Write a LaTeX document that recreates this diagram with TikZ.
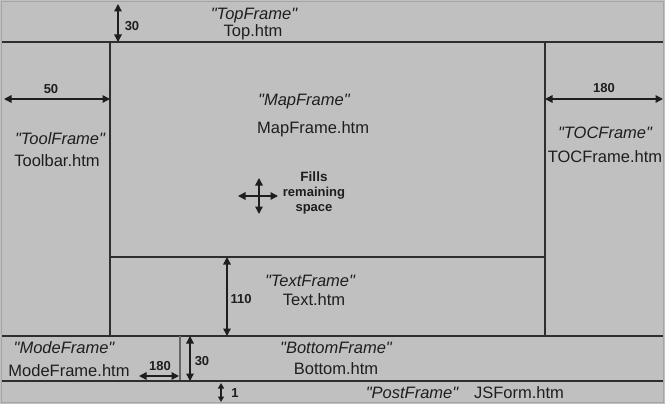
\documentclass[tikz,border=0pt]{standalone}
\usepackage{fontspec}
\setmainfont{Liberation Sans}
\usetikzlibrary{arrows.meta}
\definecolor{panelgray}{HTML}{C0C0C0}
\definecolor{edgegray}{HTML}{A4A4A4}
\definecolor{linedark}{HTML}{2E2E2E}
\definecolor{splitgray}{HTML}{666666}
\definecolor{inkc}{HTML}{1E1E1E}
\newcommand{\qq}[1]{\textquotedbl#1\textquotedbl}
\begin{document}
\begin{tikzpicture}[x=1pt,y=-1pt,
  frameline/.style={line width=2pt,draw=linedark},
  dimarrow/.style={line width=1.5pt,draw=inkc,
    {Triangle[length=7.5pt,width=7.5pt]}-{Triangle[length=7.5pt,width=7.5pt]}},
  smallarrow/.style={line width=1.3pt,draw=inkc,
    {Triangle[length=5.5pt,width=6pt]}-{Triangle[length=5.5pt,width=6pt]}},
  lbl/.style={font=\fontsize{16.5}{18}\selectfont,text=inkc,inner sep=0pt,anchor=base},
  fname/.style={lbl,font=\fontsize{16.5}{18}\selectfont\itshape},
  dimtext/.style={font=\fontsize{13}{15}\selectfont\bfseries,text=inkc,inner sep=0pt,anchor=base},
]
% page background and outer edge
\fill[panelgray] (0,0) rectangle (665,404);
\draw[edgegray,line width=1pt] (1.5,1.5) rectangle (663.5,402.5);

% frame corners and split points
\coordinate (h1L) at (2,42);    \coordinate (h1R) at (663,42);
\coordinate (v1T) at (110,42);  \coordinate (v1B) at (110,336);
\coordinate (v2T) at (545,42);  \coordinate (v2B) at (545,336);
\coordinate (h2L) at (110,257); \coordinate (h2R) at (545,257);
\coordinate (h3L) at (2,336);   \coordinate (h3R) at (663,336);
\coordinate (v3T) at (180,336); \coordinate (v3B) at (180,381);
\coordinate (h4L) at (2,381);   \coordinate (h4R) at (663,381);

% frame borders
\draw[frameline] (h1L) -- (h1R);
\draw[frameline] (v1T) -- (v1B);
\draw[frameline] (v2T) -- (v2B);
\draw[frameline] (h2L) -- (h2R);
\draw[frameline] (h3L) -- (h3R);
\draw[line width=2.5pt,draw=splitgray] (v3T) -- (v3B);
\draw[frameline] (h4L) -- (h4R);

% dimension end points
\coordinate (topA) at (118,4);   \coordinate (topB) at (118,42);
\coordinate (leftA) at (4,99);   \coordinate (leftB) at (110,99);
\coordinate (rightA) at (545,99); \coordinate (rightB) at (663,99);
\coordinate (textA) at (227,257); \coordinate (textB) at (227,336);
\coordinate (botA) at (190,336);  \coordinate (botB) at (190,381);
\coordinate (modeA) at (139,376); \coordinate (modeB) at (179,376);
\coordinate (postA) at (221,383); \coordinate (postB) at (221,402);
\coordinate (fillW) at (238,196); \coordinate (fillE) at (278,196);
\coordinate (fillN) at (259,178); \coordinate (fillS) at (259,214);

% dimension arrows
\draw[dimarrow] (topA) -- (topB);
\draw[dimarrow] (leftA) -- (leftB);
\draw[dimarrow] (rightA) -- (rightB);
\draw[dimarrow] (textA) -- (textB);
\draw[dimarrow] (botA) -- (botB);
\draw[dimarrow] (modeA) -- (modeB);
\draw[smallarrow] (postA) -- (postB);
\draw[dimarrow] (fillW) -- (fillE);
\draw[dimarrow] (fillN) -- (fillS);

% dimension values
\node[dimtext] (d30a) at (132,31) {30};
\node[dimtext] (d50) at (51,94) {50};
\node[dimtext] (d180a) at (604,93) {180};
\node[dimtext] (d110) at (241,303) {110};
\node[dimtext] (d30b) at (202,365) {30};
\node[dimtext] (d180b) at (160,370) {180};
\node[dimtext] (d1) at (235,397) {1};
\node[dimtext,align=center,anchor=north] (fills) at (314,172)
  {\fontsize{13.5}{16}\selectfont Fills\\remaining\\space};

% frame names and pages
\node[fname] (topname) at (254,20) {\qq{TopFrame}};
\node[lbl] (toppage) at (253,37) {Top.htm};
\node[fname,anchor=base west] (mapname) at (258,106) {\qq{MapFrame}};
\node[lbl,anchor=base west] (mappage) at (257,133) {MapFrame.htm};
\node[fname] (toolname) at (60,144) {\qq{ToolFrame}};
\node[lbl] (toolpage) at (57,167) {Toolbar.htm};
\node[fname] (tocname) at (605,139) {\qq{TOCFrame}};
\node[lbl] (tocpage) at (605,163) {TOCFrame.htm};
\node[fname] (textname) at (310,286) {\qq{TextFrame}};
\node[lbl] (textpage) at (314,305) {Text.htm};
\node[fname] (modename) at (64,353) {\qq{ModeFrame}};
\node[lbl] (modepage) at (69,376) {ModeFrame.htm};
\node[fname] (bottomname) at (336,353) {\qq{BottomFrame}};
\node[lbl] (bottompage) at (336,374) {Bottom.htm};
\node[fname] (postname) at (412,398) {\qq{PostFrame}};
\node[lbl] (postpage) at (519,398) {JSForm.htm};
\end{tikzpicture}
\end{document}
